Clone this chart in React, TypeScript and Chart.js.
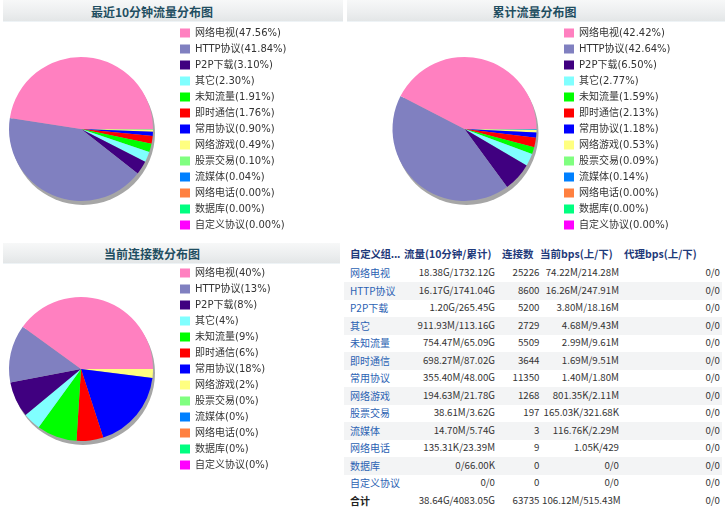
import React, { useEffect, useRef } from 'react';
import { Chart, registerables } from 'chart.js';

Chart.register(...registerables);

// ---------- data ----------
const categories = ['网络电视', 'HTTP协议', 'P2P下载', '其它', '未知流量', '即时通信', '常用协议', '网络游戏', '股票交易', '流媒体', '网络电话', '数据库', '自定义协议'];
const sliceColors = ['#ff80c0', '#8080c0', '#400080', '#80ffff', '#00ff00', '#ff0000', '#0000ff', '#ffff80', '#80ff80', '#0080ff', '#ff8040', '#00ff80', '#ff00ff'];

const recentPct = [47.56, 41.84, 3.10, 2.30, 1.91, 1.76, 0.90, 0.49, 0.10, 0.04, 0, 0, 0];
const totalPct = [42.42, 42.64, 6.50, 2.77, 1.59, 2.13, 1.18, 0.53, 0.09, 0.14, 0, 0, 0];
const connPct = [40, 13, 8, 4, 9, 6, 18, 2, 0, 0, 0, 0, 0];

const tableHeaders = ['自定义组...', '流量(10分钟/累计)', '连接数', '当前bps(上/下)', '代理bps(上/下)'];
const flowCol = ['18.38G/1732.12G', '16.17G/1741.04G', '1.20G/265.45G', '911.93M/113.16G', '754.47M/65.09G', '698.27M/87.02G', '355.40M/48.00G', '194.63M/21.78G', '38.61M/3.62G', '14.70M/5.74G', '135.31K/23.39M', '0/66.00K', '0/0'];
const connCol = [25226, 8600, 5200, 2729, 5509, 3644, 11350, 1268, 197, 3, 9, 0, 0];
const bpsCol = ['74.22M/214.28M', '16.26M/247.91M', '3.80M/18.16M', '4.68M/9.43M', '2.99M/9.61M', '1.69M/9.51M', '1.40M/1.80M', '801.35K/2.11M', '165.03K/321.68K', '116.76K/2.29M', '1.05K/429', '0/0', '0/0'];
const proxyCol = ['0/0', '0/0', '0/0', '0/0', '0/0', '0/0', '0/0', '0/0', '0/0', '0/0', '0/0', '0/0', '0/0'];
const totalRow = ['合计', '38.64G/4083.05G', '63735', '106.12M/515.43M', '0/0'];

// ---------- chart helpers ----------
const LEGEND_FAMILY = "'DejaVu Sans', 'Noto Sans CJK SC', sans-serif";
const LEGEND_SIZE = 10;
const BOX_W = 10;
const LEGEND_PAD = 6;

const shadowPlugin = {
  id: 'pieShadow',
  beforeDatasetsDraw(chart: any) {
    const arc = chart.getDatasetMeta(0).data[0];
    if (!arc) return;
    const { x, y, outerRadius } = arc.getProps(['x', 'y', 'outerRadius'], true);
    const ctx = chart.ctx;
    ctx.save();
    ctx.fillStyle = '#a6a6a6';
    ctx.beginPath();
    ctx.arc(x + 2, y + 4, outerRadius, 0, Math.PI * 2);
    ctx.fill();
    ctx.restore();
  },
};

const rev = (a: any[]) => a.slice().reverse();

type PieProps = { values: number[]; decimals: number; legendLeft: number; areaWidth: number; top: number; height: number };

function PieChart({ values, decimals, legendLeft, areaWidth, top, height }: PieProps) {
  const ref = useRef<HTMLCanvasElement>(null);
  useEffect(() => {
    const canvas = ref.current;
    if (!canvas) return;
    const labels = categories.map((c, i) => `${c}(${values[i].toFixed(decimals)}%)`);
    // measure legend text so the legend sits exactly right of the pie area
    const mctx = document.createElement('canvas').getContext('2d')!;
    mctx.font = `normal ${LEGEND_SIZE}px ${LEGEND_FAMILY}`;
    const textW = Math.max(...labels.map((l) => mctx.measureText(l).width));
    const legendW = LEGEND_PAD + BOX_W + LEGEND_SIZE / 2 + textW + 10;
    const padR = 2;
    const width = Math.ceil(areaWidth + legendW + padR);
    const extra = width - (areaWidth + legendW + padR);
    canvas.width = width;
    canvas.height = height;
    canvas.style.width = width + 'px';
    canvas.style.height = height + 'px';
    canvas.style.left = legendLeft - areaWidth + 'px';

    const chart = new Chart(canvas, {
      type: 'pie',
      data: {
        labels: rev(labels),
        datasets: [
          {
            data: rev(values),
            backgroundColor: rev(sliceColors),
            borderWidth: 0,
            radius: 72,
          } as any,
        ],
      },
      options: {
        animation: false,
        responsive: false,
        rotation: 90,
        layout: { padding: { left: 0, right: padR + extra, top: 0, bottom: 0 } },
        plugins: {
          legend: {
            position: 'right',
            align: 'start',
            reverse: true,
            labels: {
              boxWidth: BOX_W,
              boxHeight: 9,
              padding: LEGEND_PAD,
              color: '#333333',
              font: { family: LEGEND_FAMILY, size: LEGEND_SIZE },
            },
          },
          tooltip: { enabled: false },
        },
      } as any,
      plugins: [shadowPlugin],
    });
    return () => chart.destroy();
  }, []);
  return <canvas ref={ref} style={{ position: 'absolute', top }} />;
}

const headerBg = 'linear-gradient(#f7f8f8, #eceeef 60%, #e3e6e7)';
const cjk = "'Noto Sans CJK SC', sans-serif";

function PanelHeader({ left, top, width, height, title, center }: any) {
  return (
    <>
      <div style={{ position: 'absolute', left, top, width, height, background: headerBg, borderBottom: '1px solid #eef3f6' }} />
      <div
        style={{
          position: 'absolute', left: center - 100, top: top + 1, width: 200, height, lineHeight: `${height}px`,
          textAlign: 'center', fontFamily: cjk, fontWeight: 'bold', fontSize: 12, color: '#1f4e61', whiteSpace: 'nowrap',
        }}
      >
        {title}
      </div>
    </>
  );
}

const ROW_TOP = 264.5;
const ROW_H = 17.5;
const TABLE_LEFT = 344;
// column boxes: [left, width]; numbers right-aligned, overflow spills right like a table cell
const colBox: [number, number][] = [[350, 50], [400, 95], [505, 34.5], [542, 77], [620, 100]];
const headerLeft = [350, 404, 502, 540, 624];

function DataTable() {
  const rows = categories.map((name, i) => [name, flowCol[i], String(connCol[i]), bpsCol[i], proxyCol[i]]);
  rows.push(totalRow);
  return (
    <>
      {tableHeaders.map((h, i) => (
        <div
          key={'h' + i}
          style={{
            position: 'absolute', left: headerLeft[i], top: 243, height: 21, lineHeight: '21px',
            fontFamily: cjk, fontWeight: 'bold', fontSize: 10.5, color: '#1f3a7a', whiteSpace: 'nowrap',
            letterSpacing: i === 0 ? -0.3 : 0,
          }}
        >
          {h}
        </div>
      ))}
      {rows.map((r, i) => {
        const isTotal = i === rows.length - 1;
        return (
          <div
            key={'r' + i}
            style={{
              position: 'absolute', left: TABLE_LEFT, top: ROW_TOP + i * ROW_H, width: 378, height: ROW_H,
              background: i % 2 === 1 && !isTotal ? '#f3f4f5' : 'transparent',
            }}
          >
            {r.map((cell, j) => (
              <div
                key={j}
                style={{
                  position: 'absolute', left: colBox[j][0] - TABLE_LEFT, width: colBox[j][1], top: -0.5, height: ROW_H,
                  lineHeight: `${ROW_H}px`, textAlign: j === 0 ? 'left' : 'right', fontFamily: cjk,
                  fontSize: j === 0 ? 10 : 9.7,
                  whiteSpace: 'nowrap',
                  color: j === 0 ? (isTotal ? '#222' : '#2b62b3') : '#333',
                  fontWeight: j === 0 && isTotal ? 'bold' : 'normal',
                }}
              >
                {cell}
              </div>
            ))}
          </div>
        );
      })}
    </>
  );
}

export default function App() {
  return (
    <div style={{ position: 'absolute', left: 0, top: 0, width: 725, height: 511, overflow: 'hidden', background: '#fff' }}>
      <PanelHeader left={3} top={0} width={340} height={21} title="最近10分钟流量分布图" center={152} />
      <PanelHeader left={347} top={0} width={378} height={21} title="累计流量分布图" center={534.5} />
      <PanelHeader left={3} top={243} width={337} height={20} title="当前连接数分布图" center={152} />

      <PieChart values={recentPct} decimals={2} legendLeft={174} areaWidth={186} top={22} height={214} />
      <PieChart values={totalPct} decimals={2} legendLeft={558} areaWidth={187} top={22} height={214} />
      <PieChart values={connPct} decimals={0} legendLeft={174} areaWidth={186} top={262} height={214} />

      <DataTable />
    </div>
  );
}
